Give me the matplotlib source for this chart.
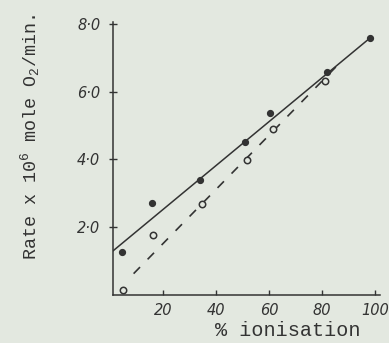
import matplotlib
matplotlib.use("Agg")
import matplotlib.pyplot as plt

# Measured rates (filled = observed, open = second series)
filled_x = [4.4, 15.7, 34.0, 51.0, 60.4, 81.8, 98.1]
filled_y = [1.27, 2.72, 3.40, 4.51, 5.37, 6.57, 7.58]
open_x = [4.8, 16.3, 34.6, 51.6, 61.5, 81.1]
open_y = [0.15, 1.76, 2.68, 3.99, 4.90, 6.32]

# Hand-drawn straight lines through each series (end points)
solid_x = [1.0, 98.1]
solid_y = [1.30, 7.58]
dashed_x = [8.8, 88.0]
dashed_y = [0.63, 6.95]

x_ticks = [20, 40, 60, 80, 100]
x_tick_labels = ["20", "40", "60", "80", "100"]
y_ticks = [2, 4, 6, 8]
y_tick_labels = ["2\u00b70", "4\u00b70", "6\u00b70", "8\u00b70"]

paper = "#e3e8e0"
ink = "#333333"

plt.rcParams["mathtext.fontset"] = "custom"
plt.rcParams["mathtext.rm"] = "Liberation Mono"
plt.rcParams["mathtext.it"] = "Liberation Mono"

fig = plt.figure(figsize=(3.89, 3.43), dpi=100, facecolor=paper)
ax = fig.add_axes([112.7 / 389, 48 / 343, 267.6 / 389, 272.9 / 343])
ax.set_facecolor(paper)

ax.plot(solid_x, solid_y, color=ink, lw=1.1, solid_capstyle="round")
ax.plot(dashed_x, dashed_y, color=ink, lw=1.2, dashes=(5.5, 6.5))
ax.plot(filled_x, filled_y, "o", color=ink, ms=4.2, mec=ink)
ax.plot(open_x, open_y, "o", mfc=paper, mec=ink, mew=1.1, ms=4.6)

ax.set_xlim(0.9, 102)
ax.set_ylim(0, 8.05)

for s in ["top", "right"]:
    ax.spines[s].set_visible(False)
for s in ["left", "bottom"]:
    ax.spines[s].set_color(ink)
    ax.spines[s].set_linewidth(1.1)

ax.set_xticks(x_ticks)
ax.set_xticklabels(x_tick_labels, fontsize=10.5, color=ink, style="italic")
ax.set_yticks(y_ticks)
ax.set_yticklabels(y_tick_labels, fontsize=10.5, color=ink, style="italic")
ax.tick_params(axis="x", direction="in", length=3.5, width=1.0, color=ink, pad=6)
ax.tick_params(axis="y", direction="inout", length=6, width=1.0, color=ink, pad=6)

fig.text(30 / 389, 1 - 137.5 / 343, r"Rate x 10$^6$ mole O$_2$/min.",
         rotation=90, ha="center", va="center", fontsize=13.2,
         family="Liberation Mono", color=ink)
fig.text(288 / 389, 1 - 330 / 343, "% ionisation", ha="center", va="center",
         fontsize=14.5, family="Liberation Mono", color=ink)

fig.savefig("out.png", dpi=100, facecolor=paper)
